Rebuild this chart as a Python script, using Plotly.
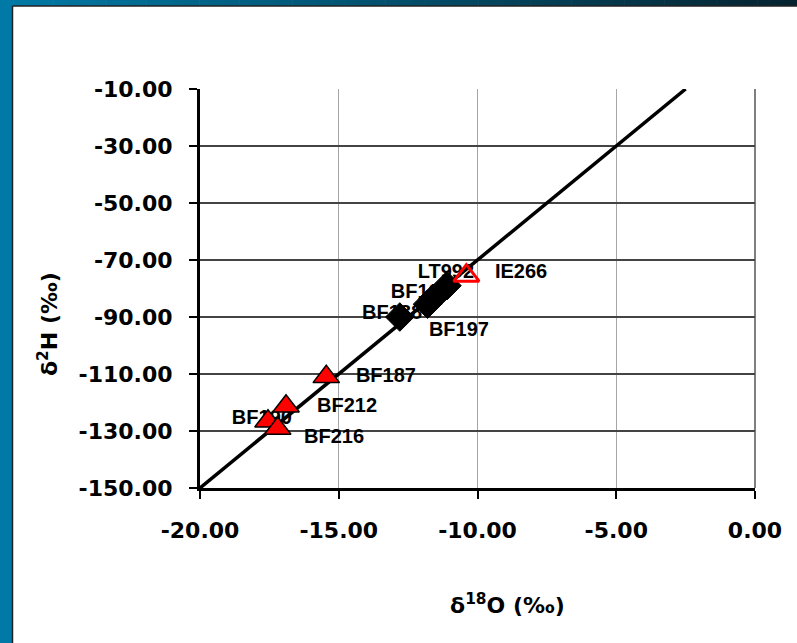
import plotly.graph_objects as go

# ---- data ----
diamond_names = ["LT992", "BF193", "BF197", "BF188"]
diamond_x = [-11.1, -11.6, -11.8, -12.8]
diamond_y = [-79.0, -83.5, -85.5, -90.0]

tri_names = ["BF187", "BF212", "BF190", "BF216"]
tri_x = [-15.45, -16.9, -17.55, -17.2]
tri_y = [-111.0, -121.3, -126.6, -129.1]

open_names = ["IE266"]
open_x = [-10.4]
open_y = [-75.5]

gmwl_x = [-20.0, -2.5]
gmwl_y = [-150.0, -10.0]

label_names = ["LT992", "IE266", "BF193", "BF188", "BF197", "BF187", "BF212", "BF190", "BF216"]
label_x = [-11.14, -8.43, -12.04, -13.08, -10.67, -13.30, -14.70, -17.77, -15.17]
label_y = [-74.7, -74.7, -81.7, -88.8, -94.8, -111.1, -121.7, -125.9, -132.3]

x_ticks = [-20, -15, -10, -5, 0]
y_ticks = [-10, -30, -50, -70, -90, -110, -130, -150]

W, H = 797, 643
L, R, T, B = 200, 42, 89, 155
PW, PH = W - L - R, H - T - B

def px(x):
    return (x - L) / PW

def py(y):
    return (H - B - y) / PH

FONT = "DejaVu Sans"
LFONT = "Liberation Sans"

fig = go.Figure()
fig.add_trace(go.Scatter(x=gmwl_x, y=gmwl_y, mode="lines",
                         line=dict(color="black", width=3.5), hoverinfo="skip"))
fig.add_trace(go.Scatter(x=label_x, y=label_y, mode="text", text=label_names,
                         textposition="middle center",
                         textfont=dict(family=LFONT, size=20, color="black", weight="bold"),
                         hoverinfo="skip"))
fig.add_trace(go.Scatter(x=diamond_x, y=diamond_y, mode="markers",
                         marker=dict(symbol="diamond", size=22, color="black",
                                     line=dict(color="black", width=1)),
                         text=diamond_names))
fig.add_trace(go.Scatter(x=tri_x, y=tri_y, mode="markers",
                         marker=dict(symbol="triangle-up", size=23, color="#ff0000",
                                     line=dict(color="black", width=1.5)),
                         text=tri_names))
fig.add_trace(go.Scatter(x=open_x, y=open_y, mode="markers",
                         marker=dict(symbol="triangle-up-open", size=22, color="#ff0000",
                                     line=dict(color="#ff0000", width=3)),
                         text=open_names))

shapes = []
# top gradient band
n = 60
c0 = (0, 121, 166)
c1 = (6, 36, 48)
for i in range(n):
    t = i / (n - 1)
    c = tuple(int(round(c0[k] + (c1[k] - c0[k]) * t)) for k in range(3))
    x0 = W * i / n
    x1 = W * (i + 1) / n + 0.6
    shapes.append(dict(type="rect", xref="paper", yref="paper",
                       x0=px(x0), x1=px(x1), y0=py(6), y1=py(0),
                       fillcolor="rgb(%d,%d,%d)" % c, line=dict(width=0), layer="below"))
# left strip
shapes.append(dict(type="rect", xref="paper", yref="paper",
                   x0=px(0), x1=px(12.5), y0=py(H), y1=py(0),
                   fillcolor="#0079a6", line=dict(width=0), layer="below"))
# dark inner edges
shapes.append(dict(type="line", xref="paper", yref="paper",
                   x0=px(12.5), x1=px(W), y0=py(6), y1=py(6),
                   line=dict(color="#222222", width=1.5)))
shapes.append(dict(type="line", xref="paper", yref="paper",
                   x0=px(12.5), x1=px(12.5), y0=py(6), y1=py(H),
                   line=dict(color="#222222", width=1.5)))
# right plot border
shapes.append(dict(type="line", xref="paper", yref="paper",
                   x0=1, x1=1, y0=0, y1=1, layer="below",
                   line=dict(color="#555555", width=1.5)))

annotations = [
    dict(text="δ<sup>18</sup>O (‰)", xref="paper", yref="paper",
         x=px(507), y=py(604), showarrow=False, xanchor="center", yanchor="middle",
         font=dict(family=FONT, size=22, color="black", weight="bold")),
    dict(text="δ<sup>2</sup>H (‰)", xref="paper", yref="paper",
         x=px(48), y=py(324), showarrow=False, xanchor="center", yanchor="middle",
         textangle=-90,
         font=dict(family=FONT, size=22, color="black", weight="bold")),
]

fig.update_layout(
    width=W, height=H,
    margin=dict(l=L, r=R, t=T, b=B),
    paper_bgcolor="white", plot_bgcolor="white",
    showlegend=False,
    shapes=shapes, annotations=annotations,
    xaxis=dict(range=[-20, 0], tickvals=x_ticks, ticktext=["%.2f" % v for v in x_ticks],
               showgrid=True, gridcolor="#a6a6a6", gridwidth=1,
               showline=True, linecolor="black", linewidth=3,
               ticks="outside", ticklen=8, tickwidth=1.5, tickcolor="black",
               ticklabelstandoff=13, zeroline=False,
               tickfont=dict(family=FONT, size=22, color="black", weight="bold")),
    yaxis=dict(range=[-150, -10], tickvals=y_ticks, ticktext=["%.2f" % v for v in y_ticks],
               showgrid=True, gridcolor="#444444", gridwidth=1.5,
               showline=True, linecolor="black", linewidth=3,
               ticks="outside", ticklen=8, tickwidth=1.5, tickcolor="black",
               ticklabelstandoff=12, zeroline=False,
               tickfont=dict(family=FONT, size=22, color="black", weight="bold")),
)

fig.write_html("out.html", config={"displayModeBar": False},
               post_script="document.body.style.margin='0';document.body.style.overflow='hidden';")
